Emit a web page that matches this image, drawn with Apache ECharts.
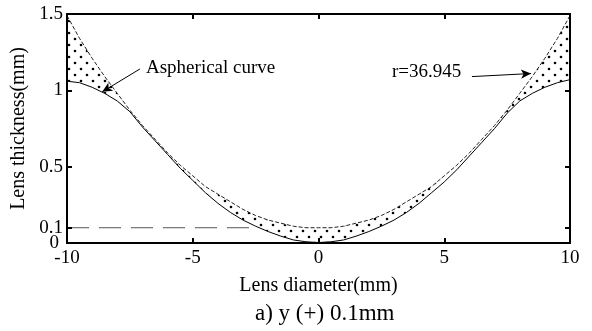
<!DOCTYPE html>
<html>
<head>
<meta charset="utf-8">
<script src="https://cdn.jsdelivr.net/npm/echarts@6/dist/echarts.min.js"></script>
<style>
  html, body { margin: 0; padding: 0; background: #fff; }
  #chart { width: 592px; height: 331px; }
</style>
</head>
<body>
<div id="chart"></div>
<script>
// lens diameter positions (mm)
const diameter = [-10, -9.5, -9, -8.5, -8, -7.5, -7, -6.5, -6, -5.5, -5, -4.5, -4, -3.5, -3, -2.5, -2, -1.5, -1, -0.5,
  0, 0.5, 1, 1.5, 2, 2.5, 3, 3.5, 4, 4.5, 5, 5.5, 6, 6.5, 7, 7.5, 8, 8.5, 9, 9.5, 10];

// aspherical curve (lower solid line)
const aspheric = [1.06, 1.05, 1.02, 0.98, 0.93, 0.86, 0.76, 0.67, 0.58, 0.49, 0.41, 0.33, 0.26, 0.20, 0.15, 0.11, 0.075, 0.045, 0.02, 0.008,
  0.003, 0.008, 0.02, 0.045, 0.075, 0.11, 0.15, 0.20, 0.26, 0.33, 0.40, 0.48, 0.57, 0.66, 0.75, 0.85, 0.93, 0.98, 1.02, 1.05, 1.07];

// spherical curve r=36.945 (upper dashed line)
const spheric = [1.49, 1.34, 1.21, 1.09, 0.98, 0.87, 0.77, 0.68, 0.59, 0.51, 0.44, 0.37, 0.32, 0.27, 0.22, 0.18, 0.15, 0.13, 0.11, 0.10,
  0.10, 0.10, 0.11, 0.13, 0.15, 0.18, 0.22, 0.27, 0.32, 0.37, 0.44, 0.51, 0.59, 0.68, 0.77, 0.87, 0.98, 1.09, 1.21, 1.34, 1.49];

// 0.1mm reference line
const refLineX = [-10, -2.7];
const refLineY = 0.1;

const yTickValues = [0, 0.1, 0.5, 1, 1.5];
const yLabelValues = [0.1, 0.5, 1, 1.5];
const yZeroLabel = [0];

const FONT = 'Liberation Serif';

// dotted fill pattern
const dots = document.createElement('canvas');
dots.width = 12;
dots.height = 12;
const dctx = dots.getContext('2d');
dctx.fillStyle = '#000';
dctx.beginPath(); dctx.arc(3, 3, 1.3, 0, Math.PI * 2); dctx.fill();
dctx.beginPath(); dctx.arc(9, 9, 1.3, 0, Math.PI * 2); dctx.fill();

const pair = (ys) => diameter.map((x, i) => [x, ys[i]]);

// polygon between the two curves
const renderBand = (params, api) => {
  if (params.dataIndex !== 0) return null;
  const upper = diameter.map((x, i) => api.coord([x, spheric[i]]));
  const lower = diameter.map((x, i) => api.coord([x, aspheric[i]])).reverse();
  return {
    type: 'polygon',
    shape: { points: upper.concat(lower) },
    style: { fill: { image: dots, repeat: 'repeat' }, stroke: null },
  };
};

const chart = echarts.init(document.getElementById('chart'));

const axisLineStyle = { color: '#000', width: 2 };
const tickStyle = { color: '#000', width: 2 };

const option = {
  animation: false,
  grid: { left: 67, right: 22, top: 14, bottom: 88 },
  xAxis: [
    {
      type: 'value', min: -10, max: 10, interval: 5,
      name: 'Lens diameter(mm)', nameLocation: 'middle', nameGap: 33,
      nameTextStyle: { fontFamily: FONT, fontSize: 20, color: '#000' },
      axisLine: { onZero: false, lineStyle: axisLineStyle },
      axisTick: { inside: true, length: 5, lineStyle: tickStyle },
      axisLabel: { fontFamily: FONT, fontSize: 19, color: '#000', margin: 6 },
      splitLine: { show: false },
      z: 5,
    },
    {
      type: 'value', min: -10, max: 10, interval: 5, position: 'top',
      axisLine: { onZero: false, lineStyle: axisLineStyle },
      axisTick: { inside: true, length: 5, lineStyle: tickStyle },
      axisLabel: { show: false },
      splitLine: { show: false },
      z: 5,
    },
  ],
  yAxis: [
    {
      type: 'value', min: 0, max: 1.5,
      name: 'Lens thickness(mm)', nameLocation: 'middle', nameGap: 38,
      nameTextStyle: { fontFamily: FONT, fontSize: 20, color: '#000' },
      axisLine: { onZero: false, lineStyle: axisLineStyle },
      axisTick: { inside: true, length: 5, customValues: yTickValues, lineStyle: tickStyle },
      axisLabel: {
        fontFamily: FONT, fontSize: 19, color: '#000', margin: 4,
        customValues: yLabelValues,
        formatter: (v) => String(v),
      },
      splitLine: { show: false },
      z: 5,
    },
    {
      type: 'value', min: 0, max: 1.5, position: 'right',
      axisLine: { onZero: false, lineStyle: axisLineStyle },
      axisTick: { inside: true, length: 5, customValues: yTickValues, lineStyle: tickStyle },
      axisLabel: { show: false },
      splitLine: { show: false },
      z: 5,
    },
    {
      // separate axis just for the "0" label, which overlaps "0.1"
      type: 'value', min: 0, max: 1.5, position: 'left',
      axisLine: { show: false },
      axisTick: { show: false },
      axisLabel: {
        fontFamily: FONT, fontSize: 19, color: '#000', margin: 8,
        customValues: yZeroLabel,
        showMinLabel: true,
        formatter: (v) => String(v),
      },
      splitLine: { show: false },
    },
  ],
  series: [
    {
      name: 'band',
      type: 'custom',
      renderItem: renderBand,
      data: pair(spheric),
      z: 1,
    },
    {
      name: 'reference',
      type: 'line',
      data: refLineX.map((x) => [x, refLineY]),
      symbol: 'none',
      lineStyle: { color: '#555', width: 1, type: [22, 10] },
      z: 2,
    },
    {
      name: 'aspheric',
      type: 'line',
      data: pair(aspheric),
      symbol: 'none',
      lineStyle: { color: '#000', width: 1 },
      z: 3,
      markLine: {
        silent: true,
        symbol: ['none', 'arrow'],
        symbolSize: [7, 10],
        label: { show: false },
        lineStyle: { color: '#000', width: 1, type: 'solid' },
        data: [
          [{ coord: [-7.1, 1.14] }, { coord: [-8.6, 0.99] }],
          [{ coord: [6.1, 1.09] }, { coord: [8.45, 1.11] }],
        ],
      },
    },
    {
      name: 'spheric',
      type: 'line',
      data: pair(spheric),
      symbol: 'none',
      lineStyle: { color: '#222', width: 1, type: [4, 2] },
      z: 3,
    },
  ],
  graphic: [
    {
      type: 'text', left: 146, top: 59,
      style: { text: 'Aspherical curve', font: '19px "Liberation Serif"', fill: '#000' },
    },
    {
      type: 'text', left: 392, top: 63,
      style: { text: 'r=36.945', font: '19px "Liberation Serif"', fill: '#000' },
    },
    {
      type: 'text', left: 255, top: 302,
      style: { text: 'a) y (+) 0.1mm', font: '23px "Liberation Serif"', fill: '#000' },
    },
  ],
};

chart.setOption(option);
</script>
</body>
</html>
